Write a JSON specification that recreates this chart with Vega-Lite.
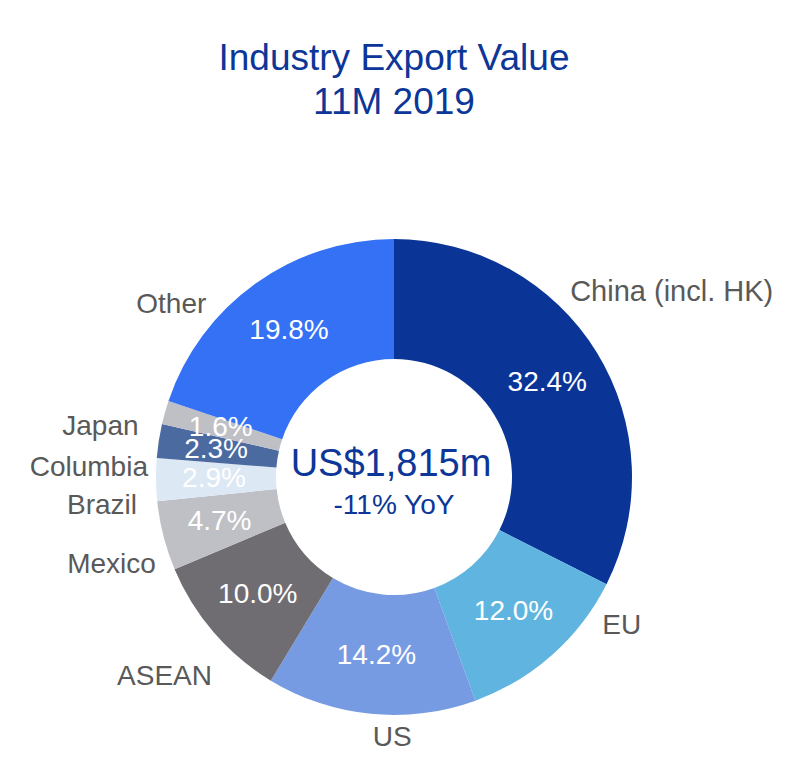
{
  "$schema": "https://vega.github.io/schema/vega-lite/v6.json",
  "autosize": {"type": "none"},
  "padding": {"left": 0, "top": 178, "right": 12, "bottom": 0},
  "width": 788,
  "height": 598,
  "title": {
    "text": ["Industry Export Value", "11M 2019"],
    "font": "Liberation Sans",
    "fontSize": 37,
    "fontWeight": "normal",
    "color": "#0c3698",
    "anchor": "middle",
    "frame": "group",
    "offset": 56,
    "lineHeight": 44
  },
  "data": {
    "values": [
      {"idx": 1, "region": "China (incl. HK)", "share": 0.324},
      {"idx": 2, "region": "EU", "share": 0.120},
      {"idx": 3, "region": "US", "share": 0.142},
      {"idx": 4, "region": "ASEAN", "share": 0.100},
      {"idx": 5, "region": "Mexico", "share": 0.047},
      {"idx": 6, "region": "Brazil", "share": 0.029},
      {"idx": 7, "region": "Columbia", "share": 0.023},
      {"idx": 8, "region": "Japan", "share": 0.016},
      {"idx": 9, "region": "Other", "share": 0.198}
    ]
  },
  "layer": [
    {
      "mark": {"type": "arc", "outerRadius": 238, "innerRadius": 118},
      "encoding": {
        "theta": {"field": "share", "type": "quantitative", "stack": true},
        "order": {"field": "idx", "type": "quantitative"},
        "color": {
          "field": "region",
          "type": "nominal",
          "scale": {
            "domain": ["China (incl. HK)", "EU", "US", "ASEAN", "Mexico", "Brazil", "Columbia", "Japan", "Other"],
            "range": ["#0a3597", "#60b5e0", "#779be3", "#6f6d71", "#bfbfc6", "#dde8f5", "#4a6aa0", "#bfbfc6", "#3571f5"]
          },
          "legend": null
        }
      }
    },
    {
      "mark": {"type": "text", "radius": 180, "font": "Liberation Sans", "fontSize": 28, "color": "white", "align": "center", "baseline": "middle"},
      "encoding": {
        "theta": {"field": "share", "type": "quantitative", "stack": true},
        "order": {"field": "idx", "type": "quantitative"},
        "text": {"field": "share", "type": "quantitative", "format": ".1%"}
      }
    },
    {
      "mark": {"type": "text", "radius": 255, "font": "Liberation Sans", "fontSize": 29, "color": "#595959", "align": "left", "baseline": "middle", "dx": -41, "dy": -51},
      "encoding": {
        "theta": {"field": "share", "type": "quantitative", "stack": true},
        "order": {"field": "idx", "type": "quantitative"},
        "text": {"condition": {"test": "datum.region === 'China (incl. HK)'", "field": "region", "type": "nominal"}, "value": ""}
      }
    },
    {
      "mark": {"type": "text", "radius": 255, "font": "Liberation Sans", "fontSize": 28, "color": "#595959", "align": "left", "baseline": "middle", "dx": 39, "dy": -42},
      "encoding": {
        "theta": {"field": "share", "type": "quantitative", "stack": true},
        "order": {"field": "idx", "type": "quantitative"},
        "text": {"condition": {"test": "datum.region === 'EU'", "field": "region", "type": "nominal"}, "value": ""}
      }
    },
    {
      "mark": {"type": "text", "radius": 255, "font": "Liberation Sans", "fontSize": 28, "color": "#595959", "align": "center", "baseline": "middle", "dx": 23, "dy": 7},
      "encoding": {
        "theta": {"field": "share", "type": "quantitative", "stack": true},
        "order": {"field": "idx", "type": "quantitative"},
        "text": {"condition": {"test": "datum.region === 'US'", "field": "region", "type": "nominal"}, "value": ""}
      }
    },
    {
      "mark": {"type": "text", "radius": 255, "font": "Liberation Sans", "fontSize": 28, "color": "#595959", "align": "right", "baseline": "middle", "dx": 11, "dy": 33},
      "encoding": {
        "theta": {"field": "share", "type": "quantitative", "stack": true},
        "order": {"field": "idx", "type": "quantitative"},
        "text": {"condition": {"test": "datum.region === 'ASEAN'", "field": "region", "type": "nominal"}, "value": ""}
      }
    },
    {
      "mark": {"type": "text", "radius": 255, "font": "Liberation Sans", "fontSize": 28, "color": "#595959", "align": "right", "baseline": "middle", "dx": 9, "dy": 25},
      "encoding": {
        "theta": {"field": "share", "type": "quantitative", "stack": true},
        "order": {"field": "idx", "type": "quantitative"},
        "text": {"condition": {"test": "datum.region === 'Mexico'", "field": "region", "type": "nominal"}, "value": ""}
      }
    },
    {
      "mark": {"type": "text", "radius": 255, "font": "Liberation Sans", "fontSize": 28, "color": "#595959", "align": "right", "baseline": "middle", "dx": -2, "dy": 26},
      "encoding": {
        "theta": {"field": "share", "type": "quantitative", "stack": true},
        "order": {"field": "idx", "type": "quantitative"},
        "text": {"condition": {"test": "datum.region === 'Brazil'", "field": "region", "type": "nominal"}, "value": ""}
      }
    },
    {
      "mark": {"type": "text", "radius": 255, "font": "Liberation Sans", "fontSize": 28, "color": "#595959", "align": "right", "baseline": "middle", "dx": 6, "dy": 30},
      "encoding": {
        "theta": {"field": "share", "type": "quantitative", "stack": true},
        "order": {"field": "idx", "type": "quantitative"},
        "text": {"condition": {"test": "datum.region === 'Columbia'", "field": "region", "type": "nominal"}, "value": ""}
      }
    },
    {
      "mark": {"type": "text", "radius": 255, "font": "Liberation Sans", "fontSize": 28, "color": "#595959", "align": "right", "baseline": "middle", "dx": -10, "dy": 19},
      "encoding": {
        "theta": {"field": "share", "type": "quantitative", "stack": true},
        "order": {"field": "idx", "type": "quantitative"},
        "text": {"condition": {"test": "datum.region === 'Japan'", "field": "region", "type": "nominal"}, "value": ""}
      }
    },
    {
      "mark": {"type": "text", "radius": 255, "font": "Liberation Sans", "fontSize": 28, "color": "#595959", "align": "right", "baseline": "middle", "dx": -39, "dy": 35},
      "encoding": {
        "theta": {"field": "share", "type": "quantitative", "stack": true},
        "order": {"field": "idx", "type": "quantitative"},
        "text": {"condition": {"test": "datum.region === 'Other'", "field": "region", "type": "nominal"}, "value": ""}
      }
    },
    {
      "data": {"values": [{"label": "US$1,815m"}]},
      "mark": {"type": "text", "font": "Liberation Sans", "fontSize": 38, "color": "#0c3698", "align": "center", "baseline": "middle", "dx": -3, "dy": -12},
      "encoding": {"text": {"field": "label", "type": "nominal"}}
    },
    {
      "data": {"values": [{"label": "-11% YoY"}]},
      "mark": {"type": "text", "font": "Liberation Sans", "fontSize": 28, "color": "#0c3698", "align": "center", "baseline": "middle", "dy": 29},
      "encoding": {"text": {"field": "label", "type": "nominal"}}
    }
  ],
  "config": {"view": {"stroke": null}}
}
